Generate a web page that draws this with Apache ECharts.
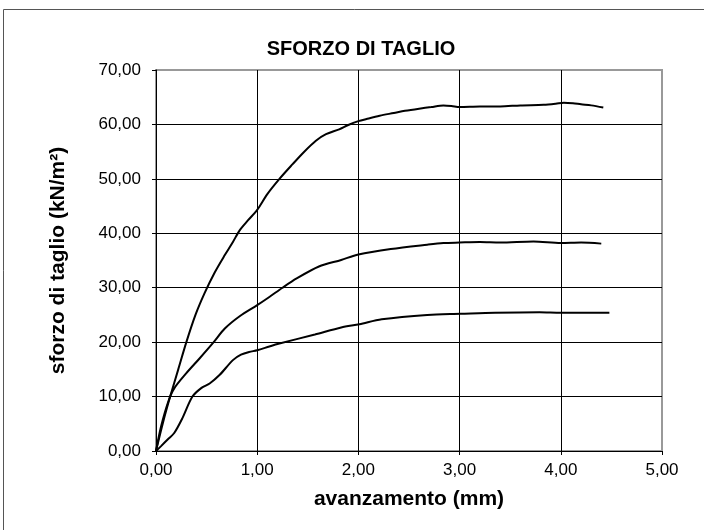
<!DOCTYPE html>
<html>
<head>
<meta charset="utf-8">
<script src="https://cdn.jsdelivr.net/npm/echarts@6/dist/echarts.min.js"></script>
<style>
  html, body { margin: 0; padding: 0; background: #fff; }
  #chart { width: 704px; height: 530px; }
</style>
</head>
<body>
<div id="chart"></div>
<script>
const titleText = 'SFORZO DI TAGLIO';
const xName = 'avanzamento (mm)';
const yName = 'sforzo di taglio (kN/m²)';

// top curve
const xHigh = [0, 0.07, 0.14, 0.22, 0.30, 0.39, 0.48, 0.58, 0.68, 0.76, 0.825, 0.91, 1.0, 1.1, 1.22, 1.35, 1.46, 1.58, 1.68, 1.81, 1.9, 2.0, 2.08, 2.21, 2.35, 2.46, 2.6, 2.72, 2.84, 2.92, 3.0, 3.2, 3.4, 3.6, 3.83, 3.95, 4.03, 4.12, 4.2, 4.3, 4.42];
const yHigh = [0, 5.3, 10.0, 15.0, 20.0, 25.0, 29.0, 32.8, 36.0, 38.4, 40.5, 42.4, 44.3, 47.2, 50.0, 52.7, 54.9, 57.0, 58.2, 59.1, 59.9, 60.6, 61.0, 61.6, 62.1, 62.5, 62.9, 63.2, 63.5, 63.4, 63.2, 63.3, 63.3, 63.5, 63.6, 63.8, 64.0, 63.9, 63.7, 63.5, 63.1];

// middle curve
const xMid = [0, 0.05, 0.12, 0.18, 0.30, 0.43, 0.57, 0.68, 0.83, 1.0, 1.12, 1.25, 1.39, 1.61, 1.83, 2.0, 2.32, 2.68, 2.84, 3.0, 3.2, 3.4, 3.73, 4.0, 4.2, 4.4];
const yMid = [0, 4.5, 9.0, 11.5, 14.3, 17.0, 20.0, 22.5, 24.8, 26.8, 28.3, 30.0, 31.7, 33.9, 35.1, 36.1, 37.1, 37.9, 38.2, 38.3, 38.4, 38.3, 38.5, 38.2, 38.3, 38.1];

// bottom curve
const xLow = [0, 0.05, 0.12, 0.18, 0.26, 0.36, 0.45, 0.53, 0.63, 0.76, 0.84, 0.92, 1.0, 1.12, 1.21, 1.57, 1.83, 2.01, 2.23, 2.68, 3.01, 3.35, 3.79, 4.0, 4.48];
const yLow = [0, 0.9, 2.2, 3.3, 6.0, 10.0, 11.6, 12.4, 14.0, 16.7, 17.7, 18.2, 18.5, 19.2, 19.7, 21.4, 22.7, 23.3, 24.2, 25.0, 25.2, 25.4, 25.5, 25.4, 25.4];

const zip = (xs, ys) => xs.map((x, i) => [x, ys[i]]);
const fmt = v => v.toFixed(2).replace('.', ',');
const font = "'Liberation Sans', Arial, sans-serif";

const chart = echarts.init(document.getElementById('chart'));

const lineSeries = (data) => ({
  type: 'line',
  data: data,
  smooth: 0.3,
  showSymbol: false,
  symbol: 'none',
  lineStyle: { color: '#000', width: 2 }
});

chart.setOption({
  animation: false,
  backgroundColor: '#fff',
  title: {
    text: titleText,
    left: 356,
    top: 34,
    textAlign: 'center',
    textStyle: { fontFamily: font, fontSize: 20, fontWeight: 'bold', color: '#000' }
  },
  graphic: [{
    type: 'rect',
    shape: { x: 3.5, y: 9.5, width: 740, height: 560 },
    style: { fill: 'none', stroke: '#555', lineWidth: 1 },
    silent: true
  }],
  grid: {
    left: 156, right: 42, top: 70, bottom: 79,
    show: true,
    borderColor: '#999',
    borderWidth: 2,
    backgroundColor: 'transparent'
  },
  xAxis: {
    type: 'value',
    min: 0, max: 5, interval: 1,
    name: xName,
    nameLocation: 'middle',
    nameGap: 38,
    nameTextStyle: { fontFamily: font, fontSize: 21, fontWeight: 'bold', color: '#000' },
    axisLine: { show: true, onZero: false, lineStyle: { color: '#000', width: 1 } },
    axisTick: { show: true, length: 4, lineStyle: { color: '#000' } },
    axisLabel: { formatter: fmt, margin: 11, fontFamily: font, fontSize: 17, color: '#000' },
    splitLine: { show: true, showMinLine: false, showMaxLine: false, lineStyle: { color: '#000', width: 1 } }
  },
  yAxis: {
    type: 'value',
    min: 0, max: 70, interval: 10,
    name: yName,
    nameLocation: 'middle',
    nameGap: 87,
    nameTextStyle: { fontFamily: font, fontSize: 21, fontWeight: 'bold', color: '#000' },
    axisLine: { show: true, onZero: false, lineStyle: { color: '#000', width: 1 } },
    axisTick: { show: true, length: 4, lineStyle: { color: '#000' } },
    axisLabel: { formatter: fmt, margin: 15, fontFamily: font, fontSize: 17, color: '#000' },
    splitLine: { show: true, showMinLine: false, showMaxLine: false, lineStyle: { color: '#000', width: 1 } }
  },
  series: [
    lineSeries(zip(xHigh, yHigh)),
    lineSeries(zip(xMid, yMid)),
    lineSeries(zip(xLow, yLow))
  ]
});
</script>
</body>
</html>
